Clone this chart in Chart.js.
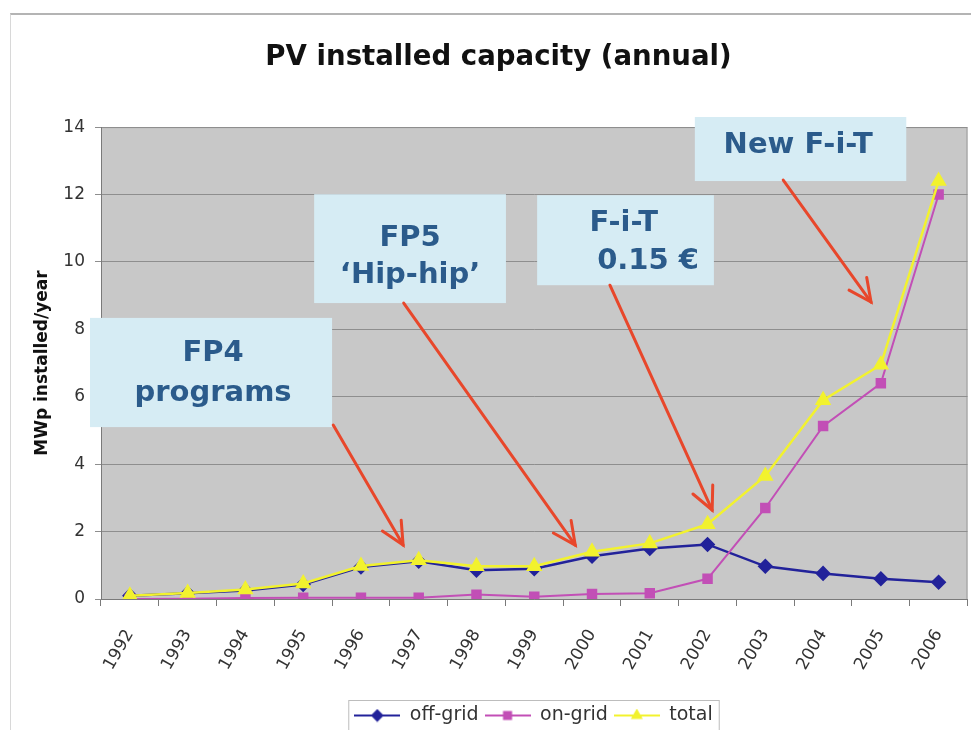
<!DOCTYPE html>
<html>
<head>
<meta charset="utf-8">
<script src="https://cdn.jsdelivr.net/npm/chart.js@4.4.0/dist/chart.umd.min.js"></script>
<style>
  html, body { margin: 0; padding: 0; background: #fff; }
  #wrap { position: relative; width: 971px; height: 730px; overflow: hidden; }
  #frame { position: absolute; left: 10px; top: 13px; right: 0; bottom: 0; border-top: 2px solid #b4b4b4; border-left: 1px solid #d8d8d8; }
  canvas { position: absolute; left: 0; top: 0; }
</style>
</head>
<body>
<div id="wrap">
  <div id="frame"></div>
  <canvas id="myChart" width="977" height="730"></canvas>
</div>
<script>
const years = ["1992", "1993", "1994", "1995", "1996", "1997", "1998", "1999",
  "2000", "2001", "2002", "2003", "2004", "2005", "2006"];
const offGrid = [0.1, 0.17, 0.25, 0.43, 0.95, 1.12, 0.85, 0.9, 1.27, 1.5, 1.62, 0.97, 0.76, 0.6, 0.5];
const onGrid = [0, 0.01, 0.03, 0.04, 0.04, 0.04, 0.13, 0.07, 0.15, 0.17, 0.6, 2.7, 5.13, 6.4, 12.0];
const total = [0.1, 0.18, 0.28, 0.46, 0.98, 1.15, 0.97, 0.97, 1.4, 1.65, 2.22, 3.65, 5.9, 6.95, 12.4];

// call-out boxes, placed in data units (x = category index, y = MWp)
const notes = [
  { lines: ["FP4", "programs"], box: [-0.69, 3.5, 8.34, 5.1], text: [[1.44, 7.27], [1.44, 6.11]], arrow: [3.52, 5.16, 4.73, 1.6] },
  { lines: ["FP5", "‘Hip-hip’"], box: [3.19, 6.51, 12.01, 8.78], text: [[4.85, 10.71], [4.85, 9.61]], arrow: [4.74, 8.78, 7.71, 1.6] },
  { lines: ["F-i-T", "0.15 €"], box: [7.05, 10.11, 11.98, 9.31], text: [[8.55, 11.15], [8.97, 10.0]], arrow: [8.31, 9.31, 10.08, 2.64] },
  { lines: ["New F-i-T"], box: [9.78, 13.44, 14.3, 12.4], text: [[11.57, 13.47]], arrow: [11.31, 12.43, 12.83, 8.81] },
];

const colors = { off: "#22229a", on: "#c24fb6", total: "#f2f22e" };

function legendIcon(color, style, radius, lineW) {
  const c = document.createElement("canvas");
  c.width = 46;
  c.height = 14;
  const g = c.getContext("2d");
  g.strokeStyle = color;
  g.fillStyle = color;
  g.lineWidth = lineW;
  g.beginPath();
  g.moveTo(0, 7);
  g.lineTo(46, 7);
  g.stroke();
  Chart.helpers.drawPoint(g, { pointStyle: style, radius: radius, borderWidth: 1 }, 23, 7);
  return c;
}

const icons = [
  legendIcon(colors.off, "rectRot", 5, 2),
  legendIcon(colors.on, "rect", 5, 2),
  legendIcon(colors.total, "triangle", 5, 2),
];

const plotBack = {
  id: "plotBack",
  beforeDraw(chart) {
    const { ctx, chartArea: a } = chart;
    ctx.save();
    ctx.fillStyle = "#c8c8c8";
    ctx.fillRect(a.left, a.top, a.right - a.left, a.bottom - a.top);
    ctx.strokeStyle = "#9a9a9a";
    ctx.lineWidth = 1;
    ctx.beginPath();
    ctx.moveTo(a.left, a.top + 0.5);
    ctx.lineTo(a.right - 0.5, a.top + 0.5);
    ctx.lineTo(a.right - 0.5, a.bottom);
    ctx.stroke();
    ctx.restore();
  },
  afterLayout(chart) {
    // legend sits right of centre and a bit lower in the original
    chart.legend.left += 35;
    chart.legend.right += 35;
    chart.legend.top += 5;
    chart.legend.bottom += 5;
  },
};

function drawArrow(ctx, x1, y1, x2, y2) {
  const a = Math.atan2(y2 - y1, x2 - x1);
  const len = 25;
  const spread = 0.45;
  ctx.beginPath();
  ctx.moveTo(x1, y1);
  ctx.lineTo(x2, y2);
  ctx.stroke();
  ctx.beginPath();
  ctx.moveTo(x2 - len * Math.cos(a - spread), y2 - len * Math.sin(a - spread));
  ctx.lineTo(x2, y2);
  ctx.lineTo(x2 - len * Math.cos(a + spread), y2 - len * Math.sin(a + spread));
  ctx.stroke();
}

const callouts = {
  id: "callouts",
  afterDraw(chart) {
    const { ctx } = chart;
    const xs = chart.scales.x;
    const ys = chart.scales.y;
    const px = (v) => xs.getPixelForValue(0) + v * (xs.getPixelForValue(1) - xs.getPixelForValue(0));
    const py = (v) => ys.getPixelForValue(v);
    ctx.save();
    notes.forEach((n) => {
      const [x1, x2, y1, y2] = n.box;
      ctx.fillStyle = "#d6ecf4";
      ctx.fillRect(px(x1), py(y1), px(x2) - px(x1), py(y2) - py(y1));
      ctx.fillStyle = "#2b5b8b";
      ctx.font = 'bold 29px "DejaVu Sans"';
      ctx.textAlign = "center";
      ctx.textBaseline = "middle";
      n.lines.forEach((t, i) => ctx.fillText(t, px(n.text[i][0]), py(n.text[i][1])));
      ctx.strokeStyle = "#e8472b";
      ctx.lineWidth = 3;
      ctx.lineCap = "round";
      const [ax1, ay1, ax2, ay2] = n.arrow;
      drawArrow(ctx, px(ax1), py(ay1), px(ax2), py(ay2));
    });

    // legend frame
    const boxes = chart.legend.legendHitBoxes;
    const left = Math.min(...boxes.map((b) => b.left)) - 6;
    const right = Math.max(...boxes.map((b) => b.left + b.width)) + 6;
    const top = Math.min(...boxes.map((b) => b.top)) - 6;
    ctx.strokeStyle = "#bdbdbd";
    ctx.lineWidth = 1;
    ctx.strokeRect(left + 0.5, top + 0.5, right - left, 60);
    ctx.restore();
  },
};

const ctx = document.getElementById("myChart");

new Chart(ctx, {
  type: "line",
  data: {
    labels: years,
    datasets: [
      {
        label: "off-grid",
        data: offGrid,
        borderColor: colors.off,
        backgroundColor: colors.off,
        borderWidth: 2.5,
        pointStyle: "rectRot",
        pointRadius: 6,
        order: 2,
      },
      {
        label: "on-grid",
        data: onGrid,
        borderColor: colors.on,
        backgroundColor: colors.on,
        borderWidth: 2,
        pointStyle: "rect",
        pointRadius: 6,
        order: 1,
      },
      {
        label: "total",
        data: total,
        borderColor: colors.total,
        backgroundColor: colors.total,
        borderWidth: 2.5,
        pointStyle: "triangle",
        pointRadius: 7,
        order: 0,
      },
    ],
  },
  options: {
    responsive: false,
    animation: false,
    devicePixelRatio: 1,
    layout: { padding: { left: 24, right: 4, top: 0, bottom: 0 } },
    plugins: {
      tooltip: { enabled: false },
      title: {
        display: true,
        text: "PV installed capacity (annual)",
        color: "#111",
        font: { family: "DejaVu Sans", weight: "bold", size: 27.6 },
        padding: { top: 41, bottom: 53 },
      },
      legend: {
        position: "bottom",
        labels: {
          usePointStyle: true,
          pointStyleWidth: 46,
          padding: 6,
          color: "#333",
          font: { family: "DejaVu Sans", size: 19 },
          generateLabels: (chart) =>
            chart.data.datasets.map((ds, i) => ({
              text: ds.label,
              pointStyle: icons[i],
              fillStyle: ds.borderColor,
              strokeStyle: ds.borderColor,
              lineWidth: 0,
              hidden: false,
              datasetIndex: i,
              fontColor: "#333",
            })),
        },
      },
    },
    scales: {
      x: {
        offset: true,
        afterFit: (scale) => {
          scale.height = 96;
        },
        grid: {
          display: true,
          drawOnChartArea: false,
          drawTicks: true,
          tickLength: 7,
          offset: true,
          color: "#7a7a7a",
        },
        border: { color: "#7a7a7a", width: 1 },
        ticks: {
          autoSkip: false,
          maxRotation: 60,
          minRotation: 60,
          padding: 20,
          color: "#333",
          font: { family: "DejaVu Sans", size: 17 },
        },
      },
      y: {
        min: 0,
        max: 14,
        afterFit: (scale) => {
          scale.width = 77;
        },
        ticks: {
          stepSize: 2,
          padding: 10,
          color: "#333",
          font: { family: "DejaVu Sans", size: 17 },
        },
        grid: { color: "#8e8e8e", tickLength: 6 },
        border: { color: "#7a7a7a", width: 1 },
        title: {
          display: true,
          text: "MWp installed/year",
          color: "#111",
          font: { family: "DejaVu Sans", weight: "bold", size: 17 },
          padding: { top: 8, bottom: 0 },
        },
      },
    },
  },
  plugins: [plotBack, callouts],
});
</script>
</body>
</html>
